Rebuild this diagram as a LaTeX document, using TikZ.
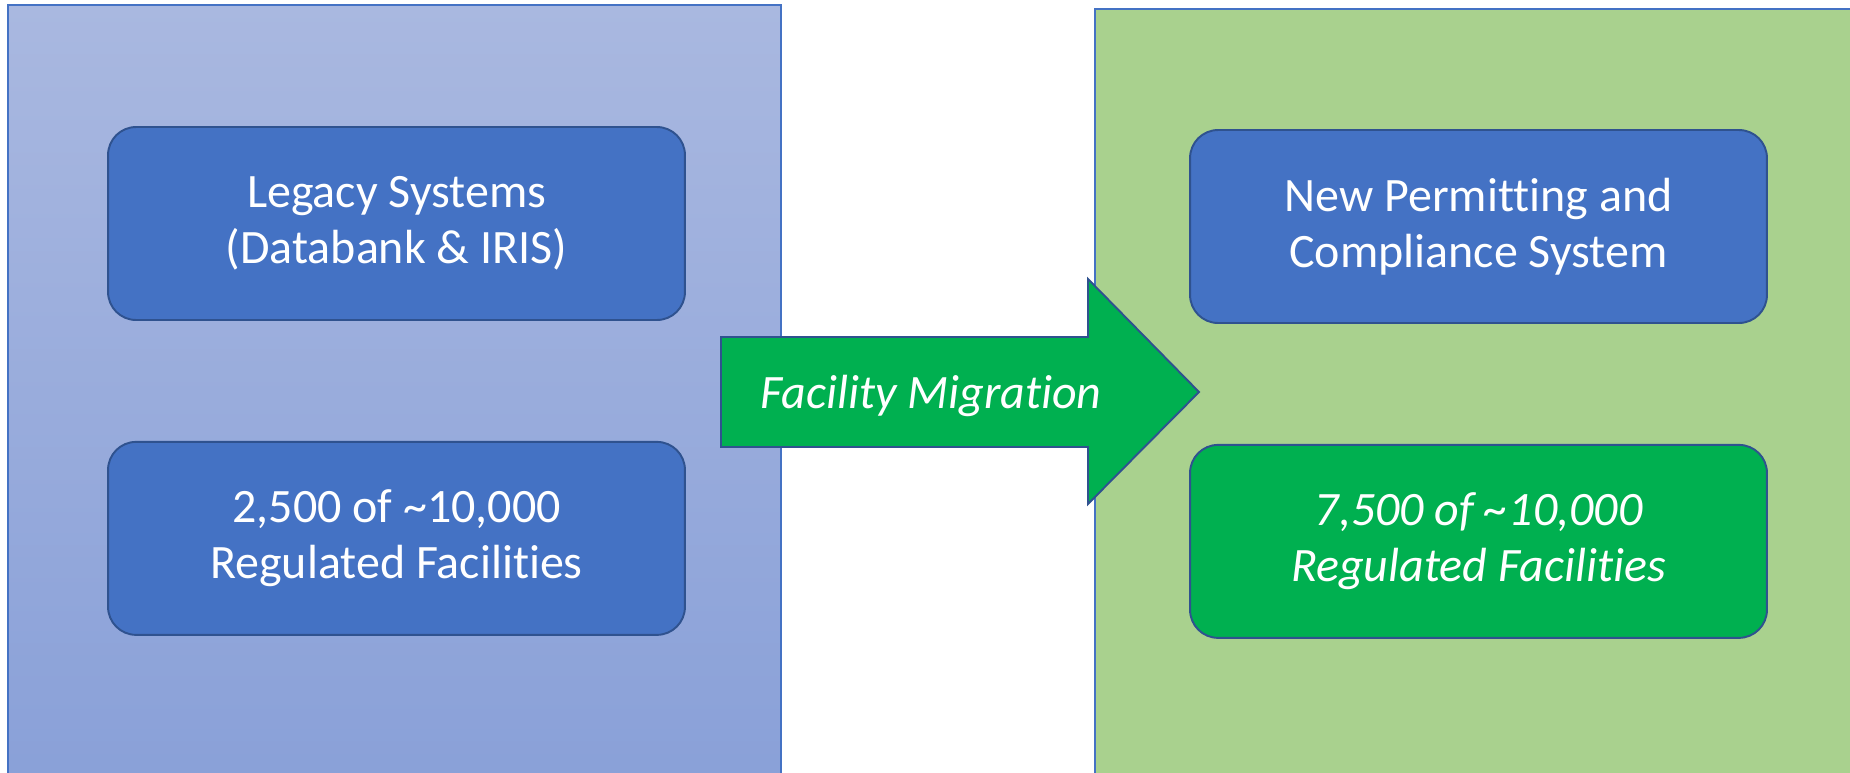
\documentclass[tikz,border=0pt]{standalone}
\usepackage{fontspec}
\setmainfont{Carlito}[Ligatures=NoCommon]
\usetikzlibrary{positioning}
\definecolor{edgeblue}{RGB}{68,114,196}
\definecolor{boxblue}{RGB}{68,114,196}
\definecolor{boxedge}{RGB}{47,82,143}
\definecolor{migreen}{RGB}{0,176,80}
\definecolor{paneltop}{RGB}{169,184,224}
\definecolor{panelbot}{RGB}{137,160,216}
\definecolor{panelgreen}{RGB}{169,209,142}

\begin{document}
\begin{tikzpicture}[x=0.02cm,y=-0.02cm,node distance=2.4cm,
  sysbox/.style={draw=boxedge,line width=1.1pt,rounded corners=0.56cm,
    fill=boxblue,text=white,align=center,
    minimum width=11.54cm,minimum height=3.86cm,
    font=\fontsize{27.3}{32}\selectfont},
  donebox/.style={sysbox,fill=migreen,font=\fontsize{27.3}{32}\selectfont\itshape}]
\useasboundingbox (0,0) rectangle (1850,772);
\clip (0,0) rectangle (1850,772);

% panels
\path[top color=paneltop,bottom color=panelbot] (8,5) rectangle (781,790);
\draw[edgeblue,line width=0.6pt] (8,790) -- (8,5) -- (781,5) -- (781,790);
\draw[edgeblue,line width=0.6pt,fill=panelgreen] (1095,790) -- (1095,9) -- (1870,9) -- (1870,790);

% left side
\node[sysbox] (legacy) at (396.5,223.5) {Legacy Systems\\(Databank \& IRIS)};
\node[sysbox] (oldcount) [below=of legacy] {2,500 of \textasciitilde10,000\\Regulated Facilities};

% right side
\node[sysbox] (newsys) at (1478.5,226.5) {New Permitting and\\Compliance System};
\node[donebox] (newcount) [below=of newsys] {7,500 of \textasciitilde10,000\\Regulated Facilities};

% migration arrow
\draw[boxedge,line width=1.1pt,fill=migreen,line join=miter]
  (721,337) -- (1088,337) -- (1088,279) -- (1199,392) -- (1088,504)
  -- (1088,447) -- (721,447) -- cycle;
\node[text=white,anchor=base,font=\fontsize{27.3}{32}\selectfont\itshape]
  (mig) at (931,408) {Facility Migration};
\end{tikzpicture}
\end{document}
